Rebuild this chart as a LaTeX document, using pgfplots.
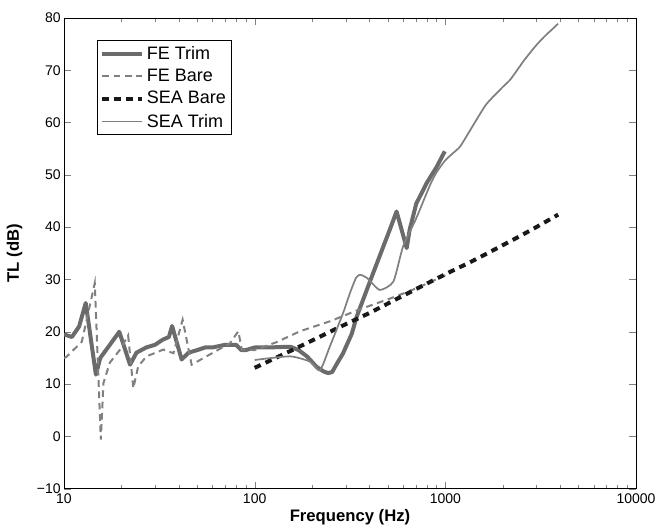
\documentclass[border=0pt]{standalone}
\usepackage{fontspec}
\setmainfont{Liberation Sans}
\usepackage{pgfplots}
\pgfplotsset{compat=1.18}
\definecolor{trim}{gray}{0.42}
\definecolor{bare}{gray}{0.5}
\definecolor{seab}{gray}{0.1}
\begin{document}
\begin{tikzpicture}
\begin{axis}[
  xmode=log, width=429pt, height=353pt, scale only axis,
  xmin=10, xmax=10000, ymin=-10, ymax=80,
  xtick={10,100,1000,10000}, xticklabels={10,100,1000,10000},
  ytick={-10,0,10,20,30,40,50,60,70,80},
  yticklabels={−10,0,10,20,30,40,50,60,70,80},
  tick align=inside, major tick length=5pt, minor tick length=3pt,
  axis line style={line width=0.7pt},
  ticklabel style={font=\fontsize{10.5}{12}\selectfont},
  yticklabel style={xshift=1pt},
  xlabel={\textbf{Frequency (Hz)}}, ylabel={\textbf{TL (dB)}},
  label style={font=\fontsize{12.5}{14}\selectfont},
  xlabel style={yshift=2pt}, ylabel style={yshift=4pt},
  legend style={at={(0.058,0.953)}, anchor=north west, draw=black, line width=0.8pt,
    font=\fontsize{13.5}{15.5}\selectfont, inner sep=2pt, row sep=2pt,
    /tikz/every even column/.append style={column sep=0pt}},
  legend cell align=left,
  legend image code/.code={\draw[#1] (0cm,0cm) -- (1.05cm,0cm);},
]
% FE Trim
\addplot[trim, line width=3pt, line join=round] coordinates {
(10,19.5) (11,19) (12,21) (13,25.5) (14.7,11.8) (15.5,15) (17,17) (19.5,20.0)
(22.2,13.7) (24,16) (27,17) (30,17.5) (33,18.5) (35.5,19) (36.9,21.1) (41.4,14.7)
(45,16) (50,16.5) (55,17) (60,17) (70,17.5) (80,17.5) (85,16.5) (90,16.5) (100,17)
(120,17) (140,17.1) (155,17.1) (170,16.5) (188,15.3) (211,13.3) (230,12.4) (243,12.1)
(255,12.3) (268,13.7) (290,15.8) (323,19.6)
(343,22.9) (417,31.1) (511,39.5) (555,43) (627,36) (650,39.5)
(704,44.5) (800,48.5) (900,51.5) (993,54.5)};
\addlegendentry{FE Trim}
% FE Bare
\addplot[bare, line width=1.5pt, dash pattern=on 5pt off 3.5pt] coordinates {
(10,15) (10.3,15.2) (12.4,18.1) (14.5,29.3) (15.6,-0.6) (16.1,10.2) (17.4,14.1)
(19.7,16.6) (21.7,19.3) (23.1,9.2) (24.5,13.4) (27.1,15.3) (33.2,16.6) (37.5,15.9)
(41.9,22.3) (46.7,13.7) (55.9,15.3) (74.2,17.8) (82.1,20.1) (85.6,16.6) (100,16.5)
(130,18) (173,20.1) (248,22) (350,24.2) (500,26.2) (652,27.8) (800,29.2) (1000,30.8)};
\addlegendentry{FE Bare}
% SEA Bare
\addplot[seab, line width=3pt, dash pattern=on 5pt off 4pt, smooth] coordinates {
(100,13.1) (166,16.9) (283,21) (400,23.6) (639,27.4) (1000,31.0) (1400,33.6)
(2012,36.6) (2800,39.4) (3908,42.4)};
\addlegendentry{SEA Bare}
% SEA Trim
\addplot[bare, line width=1.3pt, smooth, tension=0.35] coordinates {
(100,14.6) (153,15.3) (195,14.3) (220,12.6) (248,17.2) (291,23.6) (316,27.4)
(340,30.3) (357,30.9) (388,30.3) (453,28) (534,29.6) (600,36.3) (700,41.5)
(830,48) (900,50.5) (1000,52.8) (1100,54.2) (1200,55.5) (1400,59.5) (1640,63.5)
(2000,66.8) (2200,68.3) (2600,72) (3000,74.8) (3340,76.6) (3600,77.7) (3900,78.9)};
\addlegendentry{SEA Trim}
\end{axis}
\pgfresetboundingbox
\path ([shift={(-48pt,-30pt)}]current axis.south west) rectangle ([shift={(17.25pt,13.5pt)}]current axis.north east);
\end{tikzpicture}
\end{document}
